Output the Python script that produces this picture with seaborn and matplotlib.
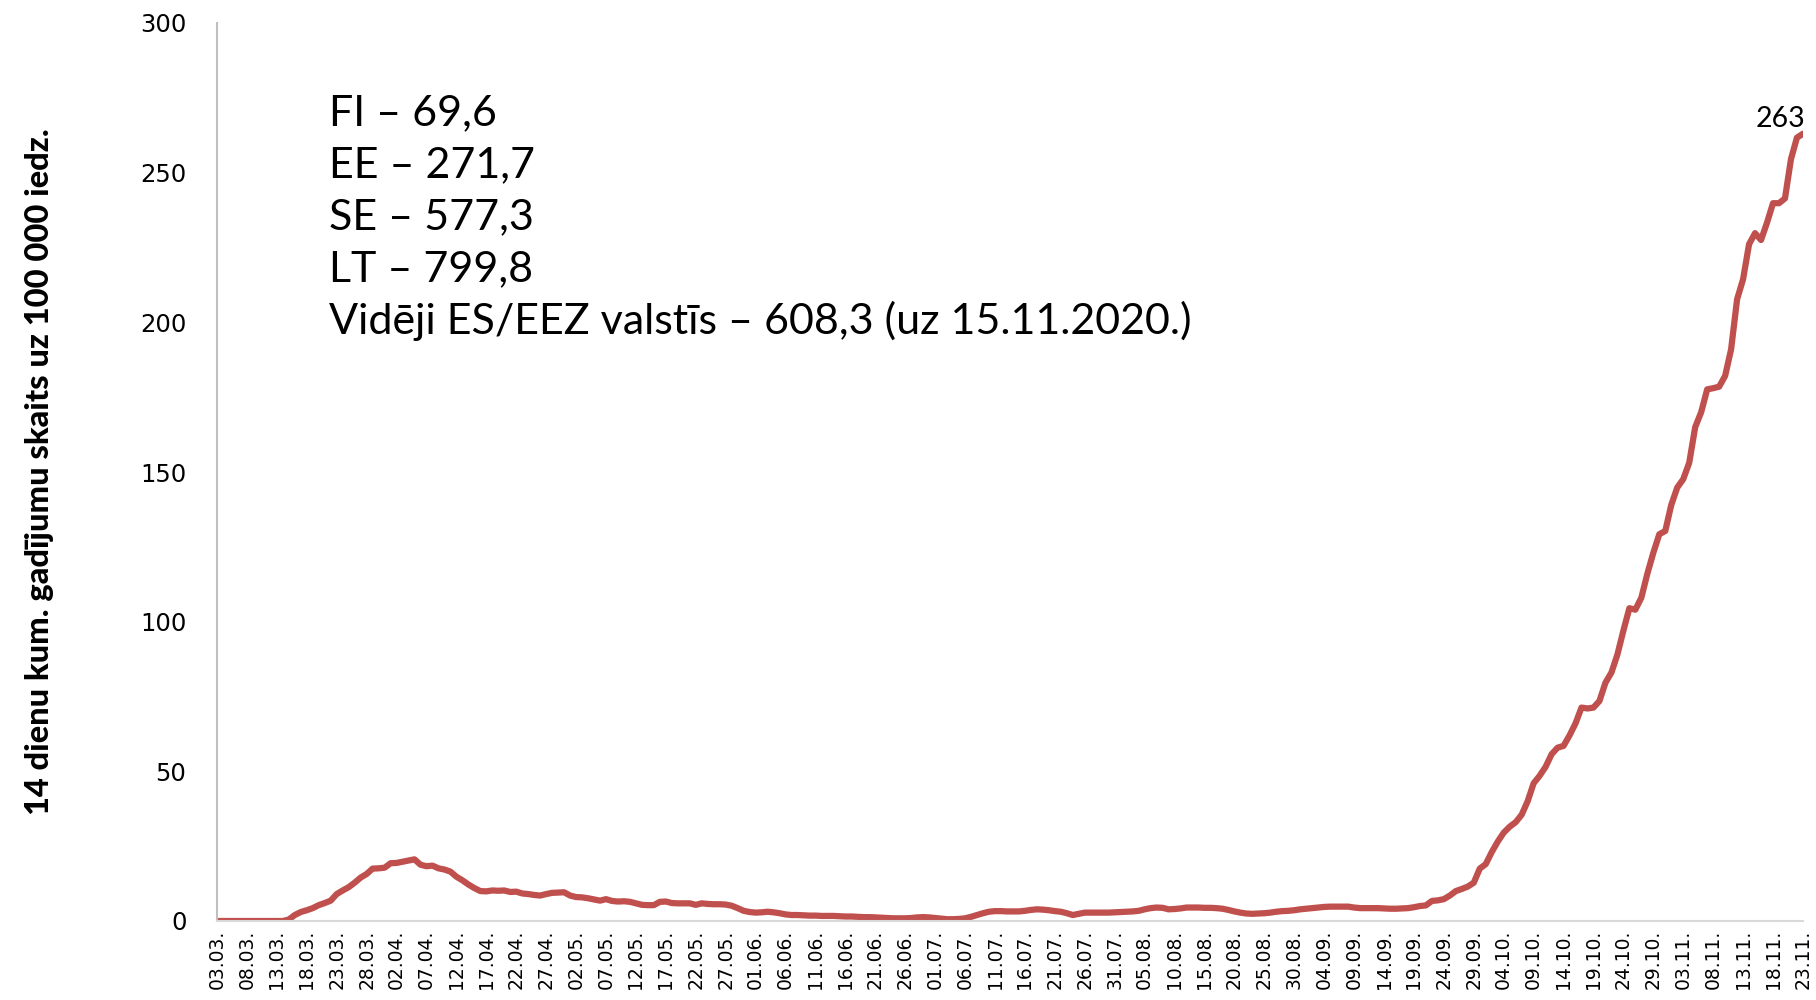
import numpy as np
import pandas as pd
import matplotlib
matplotlib.use("Agg")
import matplotlib.pyplot as plt
import seaborn as sns

# daily dates 03.03.2020 - 23.11.2020
dates = pd.date_range("2020-03-03", "2020-11-23", freq="D")

# 14 day cumulative cases per 100 000
cases_mar_apr = [
    0, 0, 0, 0, 0, 0, 0, 0, 0, 0, 0, 0, 0.5, 2.0, 3.0, 3.6, 4.3, 5.3, 6.0, 6.8,
    9.0, 10.2, 11.3, 12.8, 14.5, 15.7, 17.5, 17.6, 17.8, 19.3, 19.4, 19.8, 20.2, 20.6, 18.8, 18.3,
    18.5, 17.6, 17.2, 16.5, 14.8, 13.6, 12.2, 11.0, 10.0, 9.9, 10.2, 10.1, 10.2, 9.7, 9.8, 9.2,
    9.0, 8.7, 8.5, 9.0, 9.4, 9.5, 9.6, 8.5, 8.0,
]
cases_may_jun = [
    7.9, 7.6, 7.2, 6.8, 7.3, 6.7, 6.5, 6.6, 6.4, 5.9, 5.4, 5.3, 5.3, 6.4, 6.5, 6.0,
    5.9, 5.9, 5.9, 5.4, 5.9, 5.7, 5.6, 5.6, 5.5, 5.1, 4.3, 3.4, 3.0, 2.8, 2.9, 3.1,
    2.9, 2.6, 2.2, 2.0, 2.0, 1.9, 1.8, 1.8, 1.7, 1.7, 1.7, 1.6, 1.5, 1.5, 1.4, 1.3,
    1.3, 1.2, 1.1, 1.0, 0.9, 0.9, 0.9, 1.0, 1.2, 1.3, 1.2, 1.0, 0.8,
]
cases_jul_aug = [
    0.6, 0.6, 0.7, 0.9, 1.4, 2.0, 2.6, 3.1, 3.3, 3.3, 3.2, 3.2, 3.2, 3.4, 3.7, 3.9,
    3.8, 3.6, 3.3, 3.1, 2.6, 2.0, 2.4, 2.8, 2.8, 2.8, 2.8, 2.8, 2.9, 3.0, 3.1, 3.2,
    3.4, 3.9, 4.3, 4.5, 4.4, 3.9, 4.0, 4.2, 4.5, 4.5, 4.5, 4.4, 4.4, 4.3, 4.1, 3.7,
    3.2, 2.8, 2.5, 2.4, 2.5, 2.6, 2.8, 3.1, 3.3, 3.4, 3.6, 3.9, 4.1, 4.3,
]
cases_sep_nov = [
    4.5, 4.7, 4.8, 4.8, 4.8, 4.8, 4.5, 4.3, 4.3, 4.3, 4.3, 4.2, 4.1, 4.1, 4.2, 4.3,
    4.6, 5.0, 5.2, 6.7, 6.9, 7.3, 8.5, 10.0, 10.7, 11.5, 12.8, 17.5, 19.0, 23.0, 26.5, 29.5,
    31.5, 33.0, 35.5, 40.0, 46.0, 48.5, 51.5, 55.7, 57.9, 58.5, 62.0, 66.0, 71.3, 71.0, 71.3, 73.5,
    79.6, 83.0, 89.0, 97.0, 104.5, 104.0, 108.0, 116.0, 123.0, 129.2, 130.3, 139.0, 144.8, 147.6, 153.1, 165.0,
    170.0, 177.6, 178.0, 178.5, 182.1, 191.0, 207.7, 214.4, 226.1, 229.8, 227.5, 233.3, 239.8, 239.8, 241.4, 254.5,
    261.7, 263.0,
]
cases = cases_mar_apr + cases_may_jun + cases_jul_aug + cases_sep_nov

tick_labels = [d.strftime("%d.%m.") for d in dates[::5]]

info_lines = [
    "FI – 69,6",
    "EE – 271,7",
    "SE – 577,3",
    "LT – 799,8",
    "Vidēji ES/EEZ valstīs – 608,3 (uz 15.11.2020.)",
]

df = pd.DataFrame({"day": np.arange(len(cases)), "value": cases})

sns.set_style("white")
plt.rcParams["font.family"] = ["DejaVu Sans"]
plt.rcParams["text.color"] = "black"
plt.rcParams["axes.labelcolor"] = "black"
plt.rcParams["xtick.color"] = "black"
plt.rcParams["ytick.color"] = "black"

fig = plt.figure(figsize=(18.16, 10), dpi=100)
ax = fig.add_axes([0.1195, 0.079, 0.8733, 0.898])

sns.lineplot(data=df, x="day", y="value", color="#C0504D", linewidth=4.5, ax=ax)

ax.set_xlim(0, len(cases) - 1)
ax.set_ylim(0, 300)
ax.set_yticks(range(0, 301, 50))
ax.set_xticks(df["day"][::5])
ax.set_xticklabels(tick_labels, rotation=90, fontsize=13.5)
ax.tick_params(axis="y", labelsize=17.5, length=0, pad=22)
ax.tick_params(axis="x", length=0, pad=6)
ax.set_xlabel("")
ax.set_ylabel("14 dienu kum. gadījumu skaits uz 100 000 iedz.", fontsize=23.5,
              fontweight="black", family="Lato", labelpad=62)

for side in ["top", "right"]:
    ax.spines[side].set_visible(False)
ax.spines["left"].set_color("#BFBFBF")
ax.spines["left"].set_linewidth(1.5)
ax.spines["bottom"].set_color("#D9D9D9")
ax.spines["bottom"].set_linewidth(1.5)

# last value label
ax.annotate(f"{cases[-1]:.0f}", xy=(df["day"].iloc[-1], cases[-1]), xytext=(-16, 1),
            textcoords="offset points", ha="center", va="bottom", fontsize=20.5, family="Lato")

for i, line in enumerate(info_lines):
    fig.text(0.181, 0.887 - i * 0.052, line, fontsize=31, family="Lato", va="center", ha="left")

fig.savefig("out.png", dpi=100)
